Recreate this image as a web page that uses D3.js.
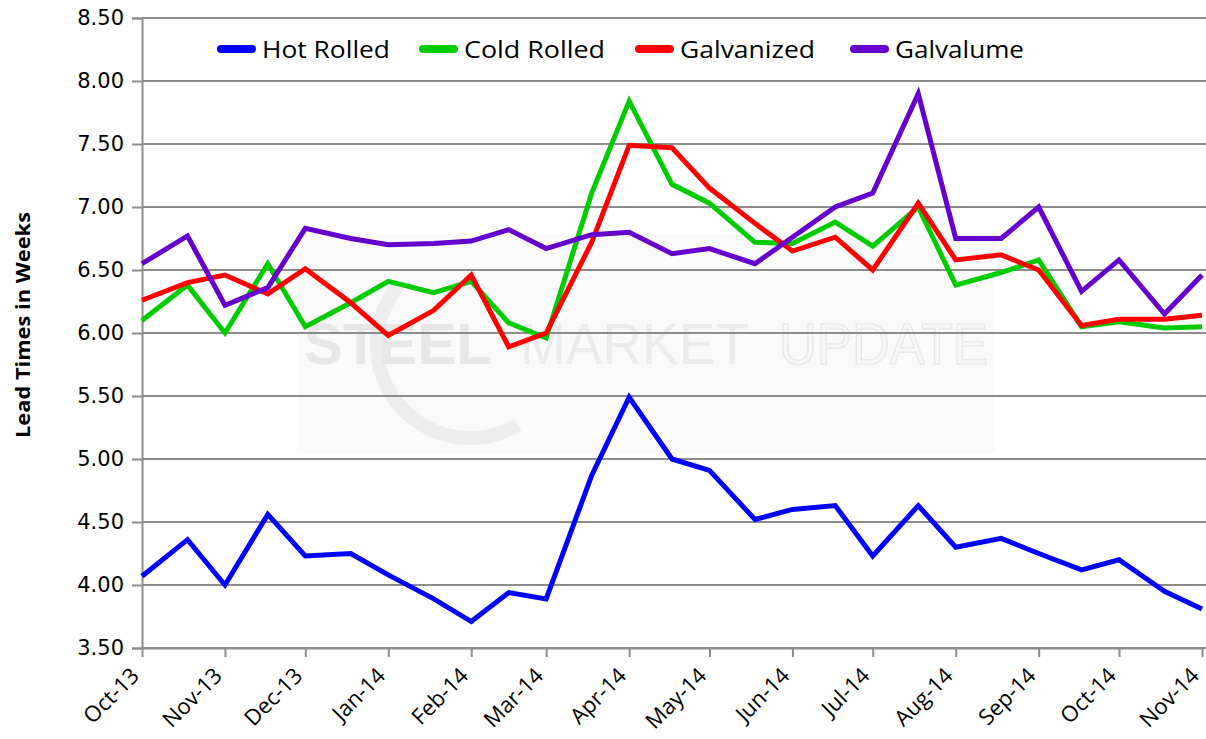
<!DOCTYPE html>
<html>
<head>
<meta charset="utf-8">
<script src="https://cdn.jsdelivr.net/npm/d3@7"></script>
<style>
  html, body { margin: 0; padding: 0; background: #fff; }
  svg { display: block; }
</style>
</head>
<body>
<svg id="chart" width="1206" height="739"></svg>
<script>
// Survey dates (start of month and mid-month readings)
const surveyDates = [
  "2013-10-01", "2013-10-18", "2013-11-01", "2013-11-17", "2013-12-01", "2013-12-18",
  "2014-01-01", "2014-01-18", "2014-02-01", "2014-02-15", "2014-03-01", "2014-03-18",
  "2014-04-01", "2014-04-17", "2014-05-01", "2014-05-18", "2014-06-01", "2014-06-17",
  "2014-07-01", "2014-07-18", "2014-08-01", "2014-08-18", "2014-09-01", "2014-09-17",
  "2014-10-01", "2014-10-18", "2014-11-01"
];

// Lead times in weeks
const hotRolled = [4.07, 4.36, 4.00, 4.56, 4.23, 4.25, 4.08, 3.89, 3.71, 3.94, 3.89, 4.87, 5.49, 5.00,
                   4.91, 4.52, 4.60, 4.63, 4.23, 4.63, 4.30, 4.37, 4.25, 4.12, 4.20, 3.95, 3.81];
const coldRolled = [6.10, 6.38, 6.00, 6.55, 6.05, 6.24, 6.41, 6.32, 6.41, 6.08, 5.96, 7.11, 7.84, 7.18,
                    7.03, 6.72, 6.71, 6.88, 6.69, 7.00, 6.38, 6.48, 6.58, 6.05, 6.09, 6.04, 6.05];
const galvanized = [6.26, 6.40, 6.46, 6.31, 6.51, 6.24, 5.98, 6.18, 6.46, 5.89, 6.00, 6.72, 7.49, 7.47,
                    7.15, 6.87, 6.65, 6.76, 6.50, 7.03, 6.58, 6.62, 6.50, 6.06, 6.11, 6.11, 6.14];
const galvalume = [6.55, 6.77, 6.22, 6.36, 6.83, 6.75, 6.70, 6.71, 6.73, 6.82, 6.67, 6.78, 6.80, 6.63,
                   6.67, 6.55, 6.76, 7.00, 7.11, 7.90, 6.75, 6.75, 7.00, 6.33, 6.58, 6.15, 6.46];

const seriesNames = ["Hot Rolled", "Cold Rolled", "Galvanized", "Galvalume"];
const seriesColors = ["#0000ff", "#00cc00", "#ff0000", "#6600cc"];
const seriesValues = [hotRolled, coldRolled, galvanized, galvalume];

const yTickValues = [3.5, 4.0, 4.5, 5.0, 5.5, 6.0, 6.5, 7.0, 7.5, 8.0, 8.5];
const yTitle = "Lead Times in Weeks";

const parse = d3.utcParse("%Y-%m-%d");
const dates = surveyDates.map(parse);

const svg = d3.select("#chart");

const plotLeft = 142, plotRight = 1202, plotTop = 18, plotBottom = 648;

const x = d3.scaleUtc()
  .domain([parse("2013-10-01"), parse("2014-11-01")])
  .range([plotLeft, plotRight]);
const y = d3.scaleLinear().domain([3.5, 8.5]).range([plotBottom, plotTop]);

// Watermark panel behind the plot
const wm = svg.append("g").attr("class", "watermark");
wm.append("rect")
  .attr("x", 297).attr("y", 233).attr("width", 698).attr("height", 220)
  .attr("fill", "#fafafa");
wm.append("path")
  .attr("d", d3.arc()({ innerRadius: 86, outerRadius: 100, startAngle: Math.PI * 1.05, endAngle: Math.PI * 1.95 }))
  .attr("transform", "translate(470,345) rotate(-40)")
  .attr("fill", "#ededed");
wm.append("text")
  .attr("x", 304).attr("y", 364)
  .attr("font-family", "Liberation Sans, Arial, sans-serif")
  .attr("font-weight", "bold").attr("font-size", 58)
  .attr("textLength", 188).attr("lengthAdjust", "spacingAndGlyphs")
  .attr("fill", "#e7e7e7").text("STEEL");
wm.append("text")
  .attr("x", 520).attr("y", 364)
  .attr("font-family", "Liberation Sans, Arial, sans-serif")
  .attr("font-size", 58)
  .attr("textLength", 229).attr("lengthAdjust", "spacingAndGlyphs")
  .attr("fill", "#ebebeb").text("MARKET");
wm.append("text")
  .attr("x", 779).attr("y", 364)
  .attr("font-family", "Liberation Sans, Arial, sans-serif")
  .attr("font-size", 58)
  .attr("textLength", 209).attr("lengthAdjust", "spacingAndGlyphs")
  .attr("fill", "#f8f8f8").attr("stroke", "#e8e8e8").attr("stroke-width", 1.5)
  .text("UPDATE");

// Horizontal gridlines
svg.append("g")
  .selectAll("line")
  .data(yTickValues)
  .join("line")
  .attr("x1", plotLeft).attr("x2", 1206)
  .attr("y1", d => y(d)).attr("y2", d => y(d))
  .attr("stroke", "#8c8c8c").attr("stroke-width", 2);

// Y axis
const yAxis = svg.append("g")
  .attr("transform", `translate(${plotLeft},0)`)
  .call(d3.axisLeft(y).tickValues(yTickValues).tickFormat(d3.format(".2f")).tickSize(10).tickPadding(8));
yAxis.select(".domain").attr("stroke", "#8c8c8c").attr("stroke-width", 2);
yAxis.selectAll(".tick line").attr("stroke", "#8c8c8c").attr("stroke-width", 2);
yAxis.selectAll(".tick text")
  .attr("font-family", "DejaVu Sans, Verdana, sans-serif")
  .attr("font-size", 21).attr("fill", "#000");

// X axis
const xAxis = svg.append("g")
  .attr("transform", `translate(0,${plotBottom})`)
  .call(d3.axisBottom(x).ticks(d3.utcMonth.every(1)).tickFormat(d3.utcFormat("%b-%y")).tickSize(9).tickSizeOuter(0));
xAxis.select(".domain").attr("stroke", "#8c8c8c").attr("stroke-width", 2);
xAxis.selectAll(".tick line").attr("stroke", "#8c8c8c").attr("stroke-width", 2);
xAxis.selectAll(".tick text")
  .attr("font-family", "Open Sans, Lato, sans-serif")
  .attr("font-size", 22).attr("fill", "#000")
  .attr("text-anchor", "end")
  .attr("dy", null).attr("y", 0)
  .attr("transform", "translate(-2,29) rotate(-45)");

// Y axis title
svg.append("text")
  .attr("transform", "translate(30,325) rotate(-90)")
  .attr("text-anchor", "middle")
  .attr("font-family", "Open Sans, Lato, sans-serif")
  .attr("font-weight", "bold").attr("font-size", 20)
  .attr("textLength", 226).attr("lengthAdjust", "spacingAndGlyphs")
  .text(yTitle);

// Series lines
const line = d3.line()
  .x((d, i) => x(dates[i]))
  .y(d => y(d));

svg.append("g")
  .selectAll("path")
  .data(seriesValues)
  .join("path")
  .attr("d", d => line(d))
  .attr("fill", "none")
  .attr("stroke", (d, i) => seriesColors[i])
  .attr("stroke-width", 5)
  .attr("stroke-linejoin", "miter")
  .attr("stroke-miterlimit", 4);

// Legend
const legendX = [218, 420, 636, 851];
const legendTextW = [128, 141, 135, 129];
const legend = svg.append("g")
  .selectAll("g")
  .data(seriesNames)
  .join("g")
  .attr("transform", (d, i) => `translate(${legendX[i]},49)`);
legend.append("line")
  .attr("x1", 3).attr("x2", 34).attr("y1", 0).attr("y2", 0)
  .attr("stroke", (d, i) => seriesColors[i])
  .attr("stroke-width", 8).attr("stroke-linecap", "round");
legend.append("text")
  .attr("x", 44).attr("y", 9)
  .attr("font-family", "Open Sans, Lato, sans-serif")
  .attr("font-size", 23)
  .attr("textLength", (d, i) => legendTextW[i]).attr("lengthAdjust", "spacingAndGlyphs")
  .attr("fill", "#000")
  .text(d => d);
</script>
</body>
</html>
